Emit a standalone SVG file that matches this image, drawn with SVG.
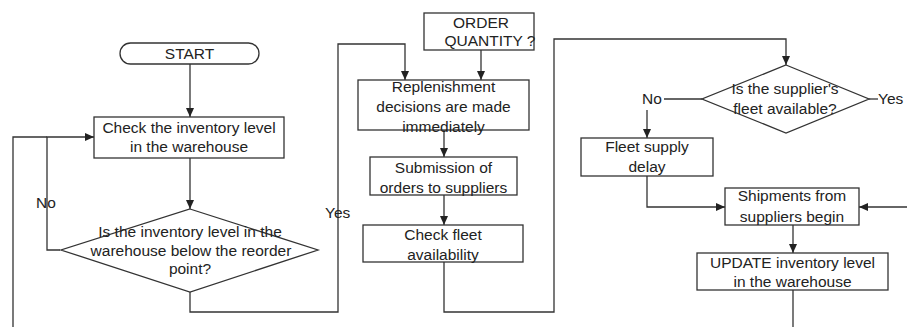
<svg xmlns="http://www.w3.org/2000/svg" width="907" height="327" viewBox="0 0 907 327">
<defs>
<marker id="ah" markerUnits="userSpaceOnUse" markerWidth="10" markerHeight="8" refX="9" refY="4" orient="auto">
<path d="M0,0 L9,4 L0,8 Z" fill="#222"/>
</marker>
<style>
.n{fill:#fff;stroke:#333;stroke-width:1.3}
.c{fill:none;stroke:#333;stroke-width:1.3}
.a{marker-end:url(#ah)}
text{font-family:"Liberation Sans",Arial,sans-serif;font-size:15.5px;fill:#222}
.m{text-anchor:middle}
</style>
</defs>
<rect width="907" height="327" fill="#fff"/>
<g id="connectors">
<path class="c a" d="M190,64 V117"/>
<path class="c a" d="M190,158 V209"/>
<path class="c a" d="M60,250 H47 V137 H94"/>
<path class="c" d="M13,327 V137 H47"/>
<path class="c a" d="M190,292 V312 H338 V44 H405 V80"/>
<path class="c a" d="M481,50 V80"/>
<path class="c a" d="M444,130 V157"/>
<path class="c a" d="M444,195 V225"/>
<path class="c a" d="M444,262 V312 H554 V39 H786 V65"/>
<path class="c" d="M702,99 H664"/>
<path class="c a" d="M647,110 V138"/>
<path class="c a" d="M647,176 V207 H725"/>
<path class="c" d="M869,99 H878"/>
<path class="c a" d="M907,207 H859"/>
<path class="c a" d="M793,225 V253"/>
<path class="c" d="M793,290 V327"/>
<text x="36" y="208">No</text>
<text x="325" y="218">Yes</text>
<text x="642" y="104">No</text>
<text x="878" y="104">Yes</text>
</g>
<g id="start">
<rect class="n" x="120" y="43" width="139" height="21" rx="10.5"/>
<text class="m" x="189.5" y="59">START</text>
</g>
<g id="check-inventory">
<rect class="n" x="94" y="117" width="190" height="41"/>
<text class="m" x="189" y="133">Check the inventory level</text>
<text class="m" x="189" y="152">in the warehouse</text>
</g>
<g id="below-reorder">
<polygon class="n" points="190,209 318,250 190,292 61,250"/>
<text class="m" x="190" y="237">Is the inventory level in the</text>
<text class="m" x="191" y="256">warehouse below the reorder</text>
<text class="m" x="190" y="274">point?</text>
</g>
<g id="order-quantity">
<rect class="n" x="424" y="13" width="110" height="37"/>
<text class="m" x="481" y="28">ORDER</text>
<text class="m" x="490" y="46">QUANTITY ?</text>
</g>
<g id="replenishment">
<rect class="n" x="358" y="80" width="171" height="50"/>
<text class="m" x="443.5" y="92">Replenishment</text>
<text class="m" x="443.5" y="112">decisions are made</text>
<text class="m" x="443.5" y="132">immediately</text>
</g>
<g id="submission">
<rect class="n" x="370" y="157" width="147" height="38"/>
<text class="m" x="443.5" y="173">Submission of</text>
<text class="m" x="443.5" y="193">orders to suppliers</text>
</g>
<g id="check-fleet">
<rect class="n" x="363" y="225" width="160" height="37"/>
<text class="m" x="443" y="240">Check fleet</text>
<text class="m" x="443" y="260">availability</text>
</g>
<g id="fleet-available">
<polygon class="n" points="786,65 869,99 786,133 702,99"/>
<text class="m" x="785" y="94">Is the supplier's</text>
<text class="m" x="785" y="114">fleet available?</text>
</g>
<g id="fleet-delay">
<rect class="n" x="581" y="138" width="132" height="38"/>
<text class="m" x="647" y="152">Fleet supply</text>
<text class="m" x="647" y="172">delay</text>
</g>
<g id="shipments">
<rect class="n" x="725" y="188" width="134" height="37"/>
<text class="m" x="792" y="201">Shipments from</text>
<text class="m" x="792" y="222">suppliers begin</text>
</g>
<g id="update-inventory">
<rect class="n" x="697" y="253" width="191" height="37"/>
<text class="m" x="792.5" y="268">UPDATE inventory level</text>
<text class="m" x="792.5" y="287">in the warehouse</text>
</g>
</svg>
